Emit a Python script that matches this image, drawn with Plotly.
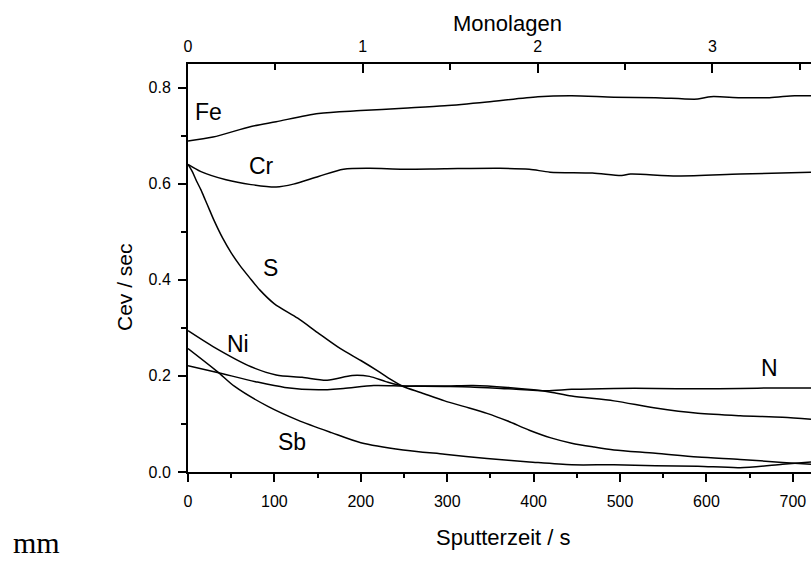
import plotly.graph_objects as go

# ---- data (sputter time in s, intensity in Cev/sec) ----
fe_t = [0, 29, 73, 102, 151, 200, 249, 297, 346, 405, 444, 493, 541, 590, 605, 639, 673, 702, 721]
fe_v = [0.689, 0.697, 0.719, 0.729, 0.746, 0.752, 0.757, 0.762, 0.770, 0.781, 0.783, 0.780, 0.779, 0.776, 0.781, 0.779, 0.779, 0.783, 0.783]

cr_t = [0, 15, 44, 73, 102, 122, 151, 180, 210, 249, 297, 361, 395, 419, 468, 502, 512, 566, 639, 721]
cr_v = [0.640, 0.625, 0.608, 0.598, 0.593, 0.599, 0.615, 0.630, 0.632, 0.630, 0.631, 0.632, 0.630, 0.624, 0.622, 0.617, 0.620, 0.616, 0.620, 0.624]

s_t = [0, 5, 10, 15, 20, 25, 30, 40, 50, 60, 71, 83, 100, 127, 150, 176, 200, 219, 235, 249, 270, 297, 320, 346, 370, 395, 420, 444, 470, 493, 541, 590, 639, 688, 721]
s_v = [0.640, 0.625, 0.605, 0.587, 0.566, 0.545, 0.524, 0.487, 0.456, 0.430, 0.405, 0.379, 0.350, 0.320, 0.290, 0.257, 0.232, 0.211, 0.192, 0.178, 0.165, 0.148, 0.136, 0.122, 0.106, 0.087, 0.071, 0.060, 0.052, 0.046, 0.039, 0.031, 0.026, 0.020, 0.016]

ni_t = [0, 29, 73, 102, 132, 161, 190, 210, 229, 249, 270, 300, 330, 370, 400, 420, 444, 493, 541, 590, 639, 688, 721]
ni_v = [0.294, 0.261, 0.219, 0.202, 0.197, 0.191, 0.201, 0.199, 0.188, 0.179, 0.179, 0.179, 0.180, 0.176, 0.171, 0.166, 0.158, 0.148, 0.133, 0.122, 0.117, 0.114, 0.110]

n_t = [0, 34, 78, 112, 151, 180, 215, 249, 297, 327, 371, 415, 444, 493, 541, 590, 639, 680, 721]
n_v = [0.221, 0.207, 0.188, 0.176, 0.171, 0.174, 0.180, 0.179, 0.178, 0.177, 0.173, 0.169, 0.172, 0.174, 0.174, 0.173, 0.174, 0.175, 0.175]

sb_t = [0, 34, 54, 93, 127, 166, 200, 249, 297, 346, 395, 444, 493, 541, 590, 639, 688, 721]
sb_v = [0.257, 0.209, 0.178, 0.136, 0.108, 0.082, 0.061, 0.046, 0.037, 0.028, 0.021, 0.015, 0.015, 0.013, 0.012, 0.009, 0.016, 0.021]

series = [(fe_t, fe_v), (cr_t, cr_v), (s_t, s_v), (ni_t, ni_v), (n_t, n_v), (sb_t, sb_v)]

label_text = ["Fe", "Cr", "S", "Ni", "N", "Sb"]
label_x = [24, 85, 95, 58, 673, 120]
label_y = [0.750, 0.637, 0.425, 0.266, 0.216, 0.062]

x_range = [0, 721]
y_range = [0, 0.849]
sec_per_monolayer = 202.3

fig = go.Figure()
for t, v in series:
    fig.add_trace(go.Scatter(x=t, y=v, mode="lines", line=dict(color="black", width=1.5),
                             line_shape="spline", line_smoothing=0.8,
                             showlegend=False, hoverinfo="skip"))

# dummy trace for top axis
fig.add_trace(go.Scatter(x=[0], y=[0], xaxis="x2", mode="markers", marker=dict(opacity=0),
                         showlegend=False, hoverinfo="skip"))

FONT = "Liberation Sans, Arial"
for txt, lx, ly in zip(label_text, label_x, label_y):
    fig.add_annotation(x=lx, y=ly, text=txt, showarrow=False, xanchor="center", yanchor="middle",
                       font=dict(family=FONT, size=23, color="black"))

W, H = 811, 561
L, T, B = 188, 64, 89
pw = W - L
ph = H - T - B

def px(x):
    return (x - L) / pw

def py(y):
    return (H - B - y) / ph

fig.add_annotation(xref="paper", yref="paper", x=px(507), y=py(24), text="Monolagen",
                   xanchor="center", yanchor="middle",
                   showarrow=False, font=dict(family=FONT, size=22, color="black"))
fig.add_annotation(xref="paper", yref="paper", x=px(503), y=py(537), text="Sputterzeit / s",
                   xanchor="center", yanchor="middle",
                   showarrow=False, font=dict(family=FONT, size=22, color="black"))
fig.add_annotation(xref="paper", yref="paper", x=px(124), y=py(287), text="Cev / sec", textangle=-90,
                   xanchor="center", yanchor="middle",
                   showarrow=False, font=dict(family=FONT, size=21, color="black"))
fig.add_annotation(xref="paper", yref="paper", x=px(11), y=py(561), text="mm", xanchor="left", yanchor="bottom",
                   showarrow=False, font=dict(family="Liberation Serif, Times New Roman", size=30, color="black"))

tickfont = dict(family=FONT, size=16, color="black")

fig.update_layout(
    width=W, height=H,
    margin=dict(l=L, r=0, t=T, b=B, pad=0),
    paper_bgcolor="white", plot_bgcolor="white",
    xaxis=dict(range=x_range, dtick=100, tick0=0, showgrid=False, zeroline=False,
               showline=True, linecolor="black", linewidth=2,
               ticks="outside", ticklen=8, tickwidth=1.5, tickcolor="black",
               ticklabelstandoff=6,
               minor=dict(dtick=50, ticks="outside", ticklen=4, tickwidth=1.5, tickcolor="black"),
               tickfont=tickfont),
    xaxis2=dict(range=[x_range[0] / sec_per_monolayer, x_range[1] / sec_per_monolayer],
                overlaying="x", side="top", anchor="y", dtick=1, tick0=0,
                showgrid=False, zeroline=False, showline=True, linecolor="black", linewidth=2,
                ticks="inside", ticklen=9, tickwidth=1.5, tickcolor="black",
                ticklabelstandoff=4,
                minor=dict(dtick=0.5, ticks="inside", ticklen=6, tickwidth=1.5, tickcolor="black"),
                tickfont=tickfont),
    yaxis=dict(range=y_range, dtick=0.2, tick0=0, tickformat=".1f", showgrid=False, zeroline=False,
               showline=True, linecolor="black", linewidth=2,
               ticks="outside", ticklen=8, tickwidth=1.5, tickcolor="black",
               ticklabelstandoff=4,
               minor=dict(dtick=0.1, ticks="outside", ticklen=5, tickwidth=1.5, tickcolor="black"),
               tickfont=tickfont),
)

fig.write_html("out.html")
